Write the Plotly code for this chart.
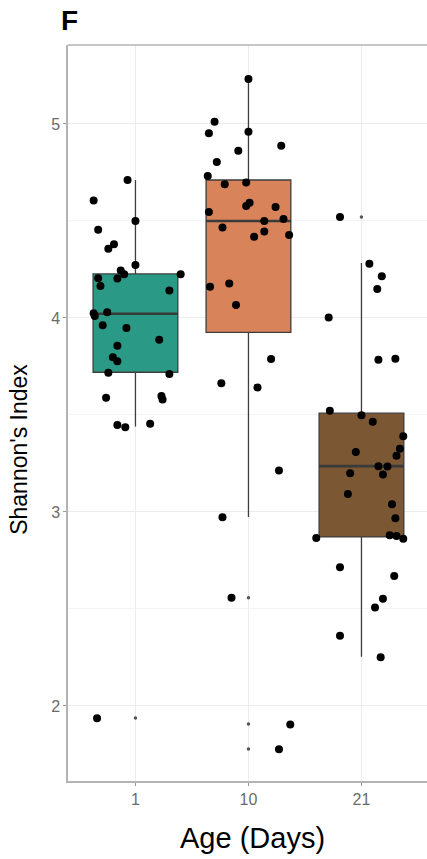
import plotly.graph_objects as go

# Age groups (days) and their fill colours
ages = ["1", "10", "21"]
fill_colors = ["#2a9a86", "#d8835a", "#7b5733"]

# Box statistics per age group
q1 = [3.720, 3.926, 2.871]
median = [4.022, 4.500, 3.236]
q3 = [4.227, 4.711, 3.509]
lower_fence = [3.440, 2.974, 2.254]
upper_fence = [4.711, 5.232, 4.283]

# Outliers flagged by the box plot
outlier_group = [0, 1, 1, 1, 2]
outlier_value = [1.938, 2.557, 1.907, 1.778, 4.520]

# Per-sample Shannon index with the horizontal jitter used for display
day1_values = [4.711, 4.605, 4.500, 4.455, 4.380, 4.357, 4.273, 4.244, 4.225, 4.204,
               4.203, 4.165, 4.225, 4.141, 4.024, 4.010, 4.029, 3.962, 3.948, 3.888,
               3.857, 3.797, 3.777, 3.718, 3.711, 3.588, 3.597, 3.579, 3.448, 3.436,
               3.455, 1.937]
day1_jitter = [-0.07, -0.37, 0.00, -0.33, -0.19, -0.24, 0.00, -0.13, -0.10, -0.33,
               -0.16, -0.31, 0.40, 0.30, -0.37, -0.36, -0.25, -0.29, -0.08, 0.21,
               -0.16, -0.20, -0.16, -0.24, 0.30, -0.26, 0.23, 0.24, -0.16, -0.09,
               0.13, -0.34]

day10_values = [5.232, 5.012, 4.952, 4.960, 4.888, 4.862, 4.804, 4.732, 4.689, 4.698,
                4.594, 4.577, 4.572, 4.546, 4.500, 4.510, 4.466, 4.445, 4.419, 4.428,
                4.161, 4.177, 4.067, 3.789, 3.663, 3.642, 3.213, 2.973, 2.558, 1.904,
                1.777]
day10_jitter = [0.00, -0.30, -0.35, 0.00, 0.29, -0.09, -0.28, -0.36, -0.21, -0.02,
                0.01, -0.02, 0.24, -0.35, 0.14, 0.31, -0.23, 0.14, 0.05, 0.36,
                -0.34, -0.17, -0.11, 0.20, -0.24, 0.08, 0.27, -0.23, -0.15, 0.37,
                0.27]

day21_values = [4.520, 4.280, 4.215, 4.149, 4.002, 3.785, 3.790, 3.521, 3.498, 3.465,
                3.390, 3.326, 3.290, 3.309, 3.236, 3.234, 3.200, 3.193, 3.093, 3.040,
                2.968, 2.866, 2.880, 2.876, 2.862, 2.715, 2.670, 2.552, 2.507, 2.362,
                2.251]
day21_jitter = [-0.19, 0.07, 0.18, 0.14, -0.29, 0.15, 0.30, -0.28, 0.00, 0.10,
                0.37, 0.34, 0.31, -0.05, 0.15, 0.23, -0.10, 0.19, -0.12, 0.27,
                0.30, -0.40, 0.25, 0.31, 0.37, -0.19, 0.29, 0.19, 0.12, -0.19,
                0.17]

y_ticks = [2, 3, 4, 5]

BOX_WIDTH = 0.75
FONT = "Liberation Sans, Arial, sans-serif"
BORDER = "#b3b3b3"

fig = go.Figure()

for i, age in enumerate(ages):
    fig.add_trace(go.Box(
        x=[i], q1=[q1[i]], median=[median[i]], q3=[q3[i]],
        lowerfence=[lower_fence[i]], upperfence=[upper_fence[i]],
        width=BOX_WIDTH, whiskerwidth=0, boxpoints=False,
        fillcolor=fill_colors[i],
        line=dict(color="#3d3d3d", width=1.3),
        hoverinfo="skip", showlegend=False, name=age,
    ))
    # heavier median bar on top of the box
    fig.add_trace(go.Scatter(
        x=[i - BOX_WIDTH / 2, i + BOX_WIDTH / 2], y=[median[i], median[i]],
        mode="lines", line=dict(color="#3a3a3a", width=2.6),
        hoverinfo="skip", showlegend=False,
    ))

# small outlier markers at the group centre
fig.add_trace(go.Scatter(
    x=outlier_group, y=outlier_value, mode="markers",
    marker=dict(color="#555555", size=3.5),
    hoverinfo="skip", showlegend=False,
))

# jittered sample points
for i, (vals, jit) in enumerate([(day1_values, day1_jitter),
                                  (day10_values, day10_jitter),
                                  (day21_values, day21_jitter)]):
    fig.add_trace(go.Scatter(
        x=[i + j for j in jit], y=vals, mode="markers",
        marker=dict(color="black", size=8),
        showlegend=False, name=ages[i],
    ))

fig.update_layout(
    width=427, height=859,
    margin=dict(l=68, r=0, t=45, b=78),
    plot_bgcolor="white", paper_bgcolor="white",
    font=dict(family=FONT),
    xaxis=dict(
        range=[-0.597, 2.58],
        tickvals=[0, 1, 2], ticktext=ages,
        showgrid=True, gridcolor="#ececec", gridwidth=1.2,
        zeroline=False,
        showline=True, linecolor=BORDER, linewidth=1.5, mirror=False,
        ticks="outside", ticklen=3, tickcolor="#9a9a9a", tickwidth=1,
        tickfont=dict(size=16, color="#6b6b6b"),
    ),
    yaxis=dict(
        range=[1.613, 5.407],
        tickvals=y_ticks, ticktext=[str(t) for t in y_ticks],
        showgrid=True, gridcolor="#ececec", gridwidth=1.2,
        minor=dict(dtick=0.5, tick0=1.5, showgrid=True, gridcolor="#f4f4f4", gridwidth=1),
        zeroline=False,
        showline=True, linecolor=BORDER, linewidth=1.5, mirror=False,
        ticks="outside", ticklen=3, tickcolor="#9a9a9a", tickwidth=1,
        tickfont=dict(size=16, color="#6b6b6b"),
    ),
    # top edge of the panel frame
    shapes=[dict(type="line", xref="paper", yref="paper", x0=0, x1=1.01, y0=1, y1=1,
                 line=dict(color=BORDER, width=1.5))],
    annotations=[
        dict(text="Age (Days)", xref="paper", yref="paper", x=0.515, y=0,
             xanchor="center", yanchor="middle", yshift=-57, showarrow=False,
             font=dict(size=29, color="black", family=FONT)),
        dict(text="Shannon's Index", xref="paper", yref="paper", x=0, y=0.45,
             xanchor="center", yanchor="middle", xshift=-49, textangle=-90,
             showarrow=False, font=dict(size=23, color="black", family=FONT)),
        dict(text="<b>F</b>", xref="paper", yref="paper", x=0, y=1,
             xanchor="left", yanchor="bottom", xshift=-9, yshift=7, showarrow=False,
             font=dict(size=28, color="black", family=FONT)),
    ],
)

fig.write_html("out.html")
